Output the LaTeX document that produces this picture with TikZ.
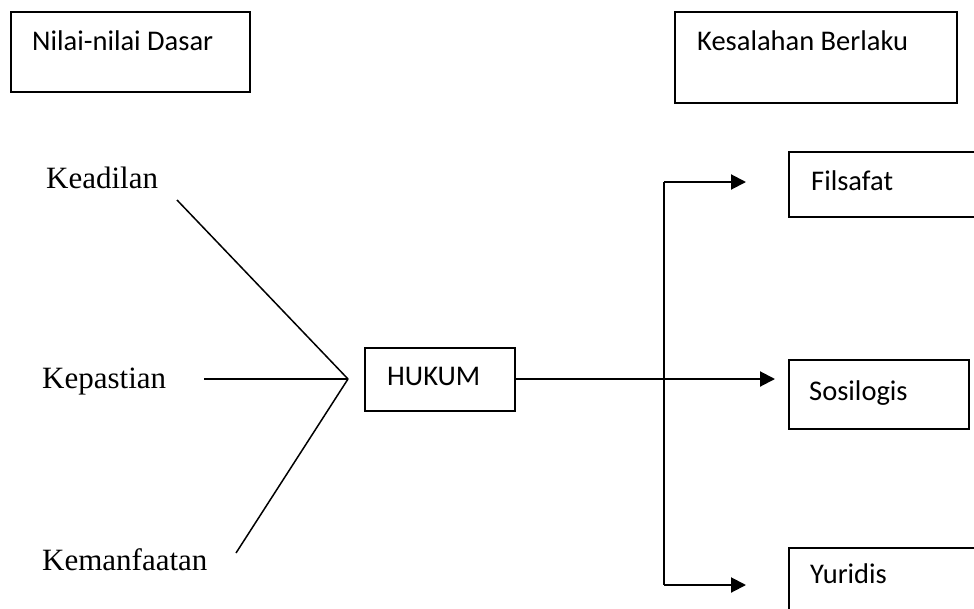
\documentclass[tikz,border=0pt]{standalone}
\usepackage{fontspec}
\setmainfont{Liberation Serif}
\newfontfamily\calfont{Carlito}
\usetikzlibrary{arrows.meta}
\begin{document}
\begin{tikzpicture}[x=1pt,y=-1pt,
  boxline/.style={draw,line width=1.6pt},
  ctext/.style={anchor=base west,inner sep=0pt,font=\calfont\fontsize{28.5}{30}\selectfont},
  stext/.style={anchor=base west,inner sep=0pt,font=\fontsize{31}{33}\selectfont},
  conn/.style={line width=1.5pt},
  arr/.style={line width=2pt,-{Triangle[length=15pt,width=15pt]}}]
\clip (0,0) rectangle (974,608);
\fill[white] (0,0) rectangle (974,608);
% boxes
\node[boxline,inner sep=0pt,minimum width=239pt,minimum height=80pt,anchor=north west] (nilaibox) at (10,11) {};
\node[ctext] (nilai) at (32,50) {Nilai-nilai Dasar};
\node[boxline,inner sep=0pt,minimum width=282pt,minimum height=91pt,anchor=north west] (kesbox) at (674,11) {};
\node[ctext] (kes) at (697,50) {Kesalahan Berlaku};
\node[boxline,inner sep=0pt,minimum width=150pt,minimum height=63pt,anchor=north west] (hukumbox) at (364,347) {};
\node[ctext] (hukum) at (387,385) {HUKUM};
\node[boxline,inner sep=0pt,minimum width=200pt,minimum height=65pt,anchor=north west] (filbox) at (788,151) {};
\node[ctext] (fil) at (811,190) {Filsafat};
\node[boxline,inner sep=0pt,minimum width=180pt,minimum height=69pt,anchor=north west] (sosbox) at (788,359) {};
\node[ctext] (sos) at (809,400) {Sosilogis};
\node[boxline,inner sep=0pt,minimum width=200pt,minimum height=80pt,anchor=north west] (yurbox) at (788,547) {};
\node[ctext] (yur) at (810,583) {Yuridis};
% left labels
\node[stext] (keadilan) at (46,188) {Keadilan};
\node[stext] (kepastian) at (42,388) {Kepastian};
\node[stext] (kemanfaatan) at (42,570) {Kemanfaatan};
% fan
\coordinate (meet) at (348,379);
\coordinate (kead) at (177,200);
\coordinate (kepa) at (204,379);
\coordinate (kema) at (236,553);
\draw[conn] (kead) -- (meet);
\draw[conn] (kepa) -- (meet);
\draw[conn] (kema) -- (meet);
% right branches
\coordinate (top) at (664,182);
\coordinate (bot) at (664,585);
\coordinate (toptip) at (746,182);
\coordinate (bottip) at (746,585);
\coordinate (midtip) at (775,379);
\draw[conn] (top) -- (bot);
\draw[arr] (hukumbox.east |- meet) -- (midtip);
\draw[arr] (top) -- (toptip);
\draw[arr] (bot) -- (bottip);
\end{tikzpicture}
\end{document}
